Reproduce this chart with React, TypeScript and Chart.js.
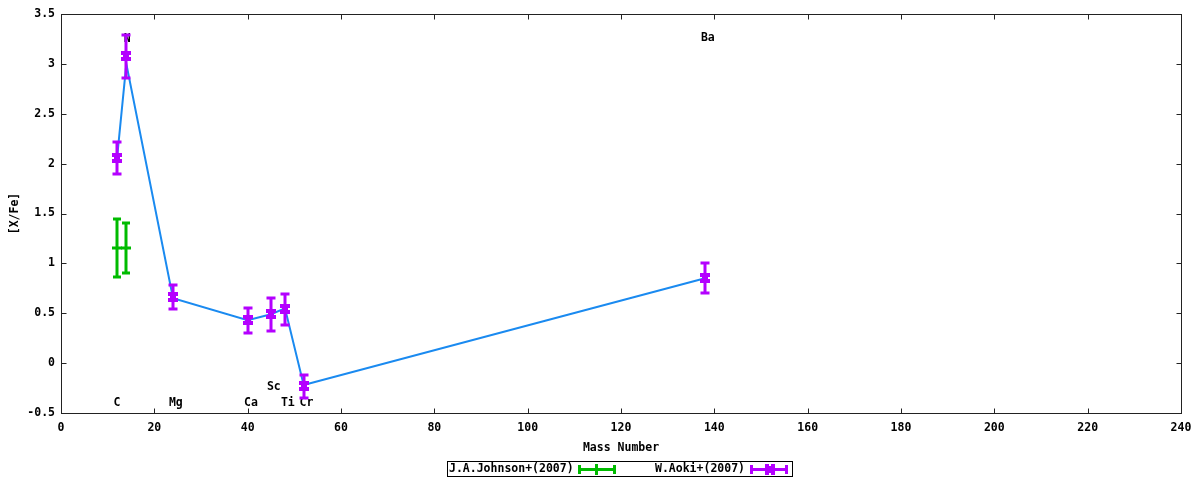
import React, { useEffect, useRef } from "react";
import { Chart, registerables } from "chart.js";

Chart.register(...registerables);

// ---- data ----
const aokiMass = [12, 14, 24, 40, 45, 48, 52, 138];
const aokiVal = [2.06, 3.075, 0.66, 0.43, 0.49, 0.54, -0.23, 0.855];
const aokiErr = [0.16, 0.215, 0.12, 0.125, 0.165, 0.155, 0.115, 0.15];

const johnsonMass = [12, 14];
const johnsonVal = [1.15, 1.15];
const johnsonErr = [0.29, 0.25];

const lineMass = [12, 14, 24, 40, 45, 48, 52, 138];
const lineVal = [2.05, 3.0, 0.65, 0.43, 0.49, 0.55, -0.22, 0.85];

const labelText = ["C", "N", "Mg", "Ca", "Sc", "Ti", "Cr", "Ba"];
const labelX = [12, 14.2, 24.6, 40.7, 45.6, 48.6, 52.6, 138.6];
const labelY = [-0.4, 3.25, -0.4, -0.4, -0.24, -0.4, -0.4, 3.26];

const legendNames = ["J.A.Johnson+(2007)", "W.Aoki+(2007)"];

const FONT = "bold 11.5px 'DejaVu Sans Mono', monospace";
const GREEN = "#00bb00";
const PURPLE = "#b400ff";
const BLUE = "#1a8af0";

function drawAokiMarker(ctx: CanvasRenderingContext2D, x: number, y: number) {
  ctx.fillRect(x - 5, y - 5, 10, 4);
  ctx.fillRect(x - 3, y - 1, 6, 2);
  ctx.fillRect(x - 5, y + 1, 10, 4);
}

const gnuplotPlugin = {
  id: "gnuplotLook",
  beforeDatasetsDraw(chart: any) {
    const ctx = chart.ctx as CanvasRenderingContext2D;
    const xs = chart.scales.x;
    const ys = chart.scales.y;
    ctx.save();
    ctx.font = FONT;
    ctx.fillStyle = "#000";
    ctx.textAlign = "center";
    ctx.textBaseline = "middle";
    labelText.forEach((t, i) => {
      ctx.fillText(t, xs.getPixelForValue(labelX[i]), ys.getPixelForValue(labelY[i]));
    });
    ctx.restore();
  },
  afterDatasetsDraw(chart: any) {
    const ctx = chart.ctx as CanvasRenderingContext2D;
    const xs = chart.scales.x;
    const ys = chart.scales.y;
    const area = chart.chartArea;
    ctx.save();
    // Johnson error bars
    ctx.fillStyle = GREEN;
    johnsonMass.forEach((m, i) => {
      const x = Math.round(xs.getPixelForValue(m));
      const yc = Math.round(ys.getPixelForValue(johnsonVal[i]));
      const yt = Math.round(ys.getPixelForValue(johnsonVal[i] + johnsonErr[i]));
      const yb = Math.round(ys.getPixelForValue(johnsonVal[i] - johnsonErr[i]));
      ctx.fillRect(x - 1.5, yt, 3, yb - yt);
      ctx.fillRect(x - 4, yt - 1.5, 8, 3);
      ctx.fillRect(x - 4, yb - 1.5, 8, 3);
      ctx.fillRect(x - 5, yc - 1.5, 10, 3);
    });
    // Aoki error bars
    ctx.fillStyle = PURPLE;
    aokiMass.forEach((m, i) => {
      const x = Math.round(xs.getPixelForValue(m));
      const yc = Math.round(ys.getPixelForValue(aokiVal[i]));
      const yt = Math.round(ys.getPixelForValue(aokiVal[i] + aokiErr[i]));
      const yb = Math.round(ys.getPixelForValue(aokiVal[i] - aokiErr[i]));
      ctx.fillRect(x - 1.5, yt, 3, yb - yt);
      ctx.fillRect(x - 4.5, yt - 1.5, 9, 3);
      ctx.fillRect(x - 4.5, yb - 1.5, 9, 3);
      drawAokiMarker(ctx, x, yc);
    });
    // border
    ctx.strokeStyle = "#222";
    ctx.lineWidth = 1;
    const L = Math.round(area.left) + 0.5;
    const R = Math.round(area.right) + 0.5;
    const T = Math.round(area.top) + 0.5;
    const B = Math.round(area.bottom) + 0.5;
    ctx.strokeRect(L, T, R - L, B - T);
    // inward ticks (mirrored)
    ctx.beginPath();
    xs.ticks.forEach((t: any) => {
      const x = Math.round(xs.getPixelForValue(t.value)) + 0.5;
      ctx.moveTo(x, B);
      ctx.lineTo(x, B - 5);
      ctx.moveTo(x, T);
      ctx.lineTo(x, T + 5);
    });
    ys.ticks.forEach((t: any) => {
      const y = Math.round(ys.getPixelForValue(t.value)) + 0.5;
      ctx.moveTo(L, y);
      ctx.lineTo(L + 5, y);
      ctx.moveTo(R, y);
      ctx.lineTo(R - 5, y);
    });
    ctx.stroke();
    ctx.restore();
  },
  afterDraw(chart: any) {
    const ctx = chart.ctx as CanvasRenderingContext2D;
    ctx.save();
    // legend box
    ctx.strokeStyle = "#000";
    ctx.lineWidth = 1;
    ctx.strokeRect(447.5, 461.5, 345, 15);
    ctx.font = FONT;
    ctx.fillStyle = "#000";
    ctx.textAlign = "left";
    ctx.textBaseline = "middle";
    ctx.fillText(legendNames[0], 449, 469.5);
    ctx.fillText(legendNames[1], 655, 469.5);
    // green sample
    ctx.fillStyle = GREEN;
    ctx.fillRect(579, 468, 36, 3);
    ctx.fillRect(578, 465, 3, 9);
    ctx.fillRect(613, 465, 3, 9);
    ctx.fillRect(595, 464, 3, 11);
    // purple sample
    ctx.fillStyle = PURPLE;
    ctx.fillRect(751, 468, 36, 3);
    ctx.fillRect(750, 465, 3, 9);
    ctx.fillRect(785, 465, 3, 9);
    ctx.fillRect(765, 464, 4, 11);
    ctx.fillRect(769, 466, 2, 7);
    ctx.fillRect(771, 464, 4, 11);
    ctx.restore();
  },
};

const tickFont = { family: "'DejaVu Sans Mono', monospace", size: 11.5, weight: "bold" };

export default function App() {
  const ref = useRef<HTMLCanvasElement | null>(null);

  useEffect(() => {
    document.body.style.margin = "0";
    const canvas = ref.current;
    if (!canvas) return;
    const chart = new Chart(canvas, {
      type: "scatter",
      data: {
        datasets: [
          {
            label: "line",
            data: lineMass.map((m, i) => ({ x: m, y: lineVal[i] })),
            showLine: true,
            borderColor: BLUE,
            borderWidth: 2,
            pointRadius: 0,
            tension: 0,
          },
          {
            label: legendNames[0],
            data: johnsonMass.map((m, i) => ({ x: m, y: johnsonVal[i] })),
            pointRadius: 0,
            backgroundColor: GREEN,
            borderColor: GREEN,
          },
          {
            label: legendNames[1],
            data: aokiMass.map((m, i) => ({ x: m, y: aokiVal[i] })),
            pointRadius: 0,
            backgroundColor: PURPLE,
            borderColor: PURPLE,
          },
        ],
      },
      options: {
        animation: false,
        responsive: false,
        devicePixelRatio: 1,
        layout: { padding: { top: 14, right: 19, left: 0, bottom: 0 } },
        plugins: {
          legend: { display: false },
          tooltip: { enabled: false },
          title: { display: false },
        },
        scales: {
          x: {
            type: "linear",
            min: 0,
            max: 240,
            grid: { display: false, drawTicks: false },
            border: { display: false },
            ticks: {
              stepSize: 20,
              padding: 8,
              color: "#000",
              font: tickFont,
              maxRotation: 0,
              callback: (v: any) => String(v),
            },
            title: {
              display: true,
              text: "Mass Number",
              color: "#000",
              font: tickFont,
              padding: { top: 0, bottom: 25 },
            },
            afterFit: (s: any) => {
              s.height = 67;
            },
          },
          y: {
            type: "linear",
            min: -0.5,
            max: 3.5,
            grid: { display: false, drawTicks: false },
            border: { display: false },
            ticks: {
              stepSize: 0.5,
              padding: 6,
              color: "#000",
              font: tickFont,
              callback: (v: any) => String(Math.round(Number(v) * 10) / 10),
            },
            title: {
              display: true,
              text: "[X/Fe]",
              color: "#000",
              font: tickFont,
              padding: { top: 8, bottom: 0 },
            },
            afterFit: (s: any) => {
              s.width = 61;
            },
          },
        },
      },
      plugins: [gnuplotPlugin],
    } as any);
    return () => chart.destroy();
  }, []);

  return (
    <div style={{ width: 1200, height: 480 }}>
      <canvas ref={ref} width={1200} height={480} style={{ display: "block" }} />
    </div>
  );
}
